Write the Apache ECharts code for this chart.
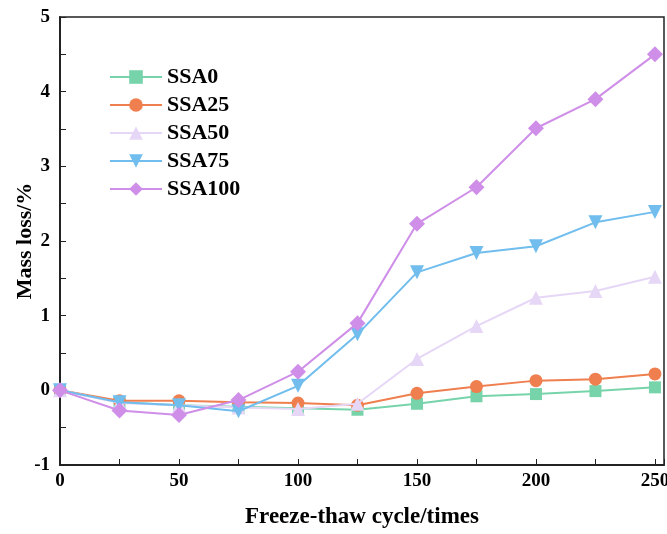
<!DOCTYPE html>
<html>
<head>
<meta charset="utf-8">
<script src="https://cdn.jsdelivr.net/npm/echarts@6/dist/echarts.min.js"></script>
<style>
  html, body { margin: 0; padding: 0; background: #fff; }
  #main { width: 667px; height: 534px; }
</style>
</head>
<body>
<div id="main"></div>
<script>
  // 横轴：冻融循环次数
  const cycles = [0, 25, 50, 75, 100, 125, 150, 175, 200, 225, 250];
  const seriesNames = ["SSA0", "SSA25", "SSA50", "SSA75", "SSA100"];
  // 质量损失率 %
  const ssa0 = [0, -0.16, -0.2, -0.22, -0.24, -0.26, -0.18, -0.08, -0.05, -0.01, 0.04];
  const ssa25 = [0, -0.14, -0.14, -0.16, -0.17, -0.2, -0.04, 0.05, 0.13, 0.15, 0.22];
  const ssa50 = [0, -0.17, -0.2, -0.23, -0.25, -0.18, 0.42, 0.86, 1.24, 1.33, 1.52];
  const ssa75 = [0, -0.16, -0.2, -0.28, 0.06, 0.75, 1.58, 1.84, 1.93, 2.25, 2.39];
  const ssa100 = [0, -0.27, -0.33, -0.13, 0.25, 0.9, 2.23, 2.72, 3.51, 3.9, 4.5];

  const colors = ["#77d4aa", "#ef7f4f", "#e6d7f7", "#70bdee", "#cf8ee8"];
  const symbols = ["rect", "circle", "triangle", "triangle", "diamond"];
  const symbolSizes = [12, 13, 14, 14, 16];
  const rotates = [0, 0, 0, 180, 0];
  const values = [ssa0, ssa25, ssa50, ssa75, ssa100];

  const fontFamily = "'Liberation Serif', 'Times New Roman', serif";

  const myChart = echarts.init(document.getElementById("main"));

  const series = seriesNames.map(function (name, i) {
    return {
      name: name,
      type: "line",
      data: cycles.map(function (c, j) { return [c, values[i][j]]; }),
      symbol: symbols[i],
      symbolSize: symbolSizes[i],
      symbolRotate: rotates[i],
      showAllSymbol: true,
      lineStyle: { color: colors[i], width: 2 },
      itemStyle: { color: colors[i] },
      emphasis: { disabled: true },
      z: 2 + i
    };
  });

  const option = {
    backgroundColor: "#fff",
    animation: false,
    color: colors,
    grid: {
      left: 60,
      right: 3,
      top: 17,
      bottom: 69,
      outerBoundsMode: "none",
      show: true,
      borderColor: "#222",
      borderWidth: 1.5
    },
    legend: {
      orient: "vertical",
      left: 104,
      top: 61,
      data: seriesNames,
      itemWidth: 52,
      itemHeight: 17,
      itemGap: 6,
      textStyle: {
        fontFamily: fontFamily,
        fontWeight: "bold",
        fontSize: 22,
        color: "#000",
        lineHeight: 22
      }
    },
    xAxis: {
      type: "value",
      min: 0,
      max: 253.8,
      interval: 25,
      name: "Freeze-thaw cycle/times",
      nameLocation: "middle",
      nameGap: 41,
      nameMoveOverlap: false,
      nameTextStyle: {
        fontFamily: fontFamily,
        fontWeight: "bold",
        fontSize: 23,
        color: "#000"
      },
      axisLine: { onZero: false, lineStyle: { color: "#222", width: 2 } },
      axisTick: { inside: true, length: 6, lineStyle: { color: "#222", width: 1 } },
      axisLabel: {
        margin: 7,
        fontFamily: fontFamily,
        fontWeight: "bold",
        fontSize: 19,
        color: "#000",
        formatter: function (v) { return v % 50 === 0 ? String(v) : ""; }
      },
      splitLine: { show: false }
    },
    yAxis: {
      type: "value",
      min: -1,
      max: 5,
      interval: 0.5,
      name: "Mass loss/%",
      nameLocation: "middle",
      nameGap: 24,
      nameMoveOverlap: false,
      nameTextStyle: {
        fontFamily: fontFamily,
        fontWeight: "bold",
        fontSize: 22,
        color: "#000"
      },
      axisLine: { onZero: false, lineStyle: { color: "#222", width: 2 } },
      axisTick: { inside: true, length: 6, lineStyle: { color: "#222", width: 1 } },
      axisLabel: {
        margin: 10,
        fontFamily: fontFamily,
        fontWeight: "bold",
        fontSize: 19,
        color: "#000",
        formatter: function (v) { return Number.isInteger(v) ? String(v) : ""; }
      },
      splitLine: { show: false }
    },
    series: series
  };

  myChart.setOption(option);
</script>
</body>
</html>
